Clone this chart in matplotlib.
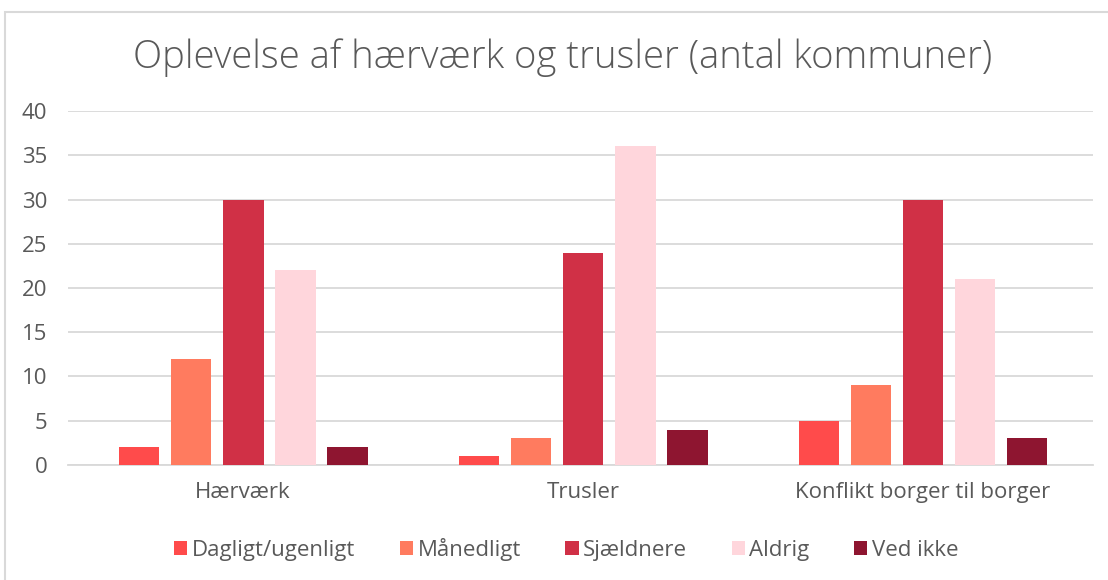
import numpy as np
import matplotlib.pyplot as plt
from matplotlib.patches import Rectangle

categories = ['Hærværk', 'Trusler', 'Konflikt borger til borger']
series_names = ['Dagligt/ugenligt', 'Månedligt', 'Sjældnere', 'Aldrig', 'Ved ikke']
dagligt = [2, 1, 5]
maanedligt = [12, 3, 9]
sjaeldnere = [30, 24, 30]
aldrig = [22, 36, 21]
ved_ikke = [2, 4, 3]
colors = ['#FF4B4B', '#FF7B5F', '#D03046', '#FFD6DC', '#8E1530']

yticks = [0, 5, 10, 15, 20, 25, 30, 35, 40]


def main():
    plt.rcParams['font.family'] = ['Open Sans', 'DejaVu Sans']
    text_color = '#595959'

    fig = plt.figure(figsize=(11.08, 5.8), dpi=100)
    ax = fig.add_axes([0.0614, 0.1983, 0.9251, 0.6103])

    # light chart-area frame (only left/top edges visible in the crop)
    fig.patches.append(Rectangle((5 / 1108, -0.1), 1.2, (580 - 12) / 580 + 0.1,
                                 transform=fig.transFigure, fill=False,
                                 edgecolor='#D9D9D9', linewidth=1.5))

    data = [dagligt, maanedligt, sjaeldnere, aldrig, ved_ikke]
    x = np.arange(len(categories))
    width = 0.12
    pitch = 0.153
    for i, (vals, name, c) in enumerate(zip(data, series_names, colors)):
        ax.bar(x + (i - 2) * pitch, vals, width, color=c, label=name, zorder=3)

    ax.set_xlim(-0.515, 2.5)
    ax.set_ylim(0, 40)
    ax.set_yticks(yticks)
    ax.set_xticks(x)
    ax.set_xticklabels(categories)
    ax.grid(axis='y', color='#D9D9D9', linewidth=1.3, zorder=0)
    for s in ['top', 'right', 'left']:
        ax.spines[s].set_visible(False)
    ax.spines['bottom'].set_color('#D9D9D9')
    ax.spines['bottom'].set_linewidth(1.3)
    ax.tick_params(axis='both', length=0, labelsize=16, colors=text_color)
    ax.tick_params(axis='x', pad=12)
    ax.tick_params(axis='y', pad=15)

    fig.text(0.508, 0.9, 'Oplevelse af hærværk og trusler (antal kommuner)',
             ha='center', va='center', fontsize=27.5, color=text_color,
             fontweight='light')

    leg = fig.legend(loc='center', bbox_to_anchor=(0.511, 0.053), ncol=5,
                     frameon=False, fontsize=16, handlelength=0.6,
                     handleheight=0.6, handletextpad=0.2, columnspacing=2.0)
    for t in leg.get_texts():
        t.set_color(text_color)

    fig.savefig('out.png', dpi=100)


if __name__ == '__main__':
    main()
